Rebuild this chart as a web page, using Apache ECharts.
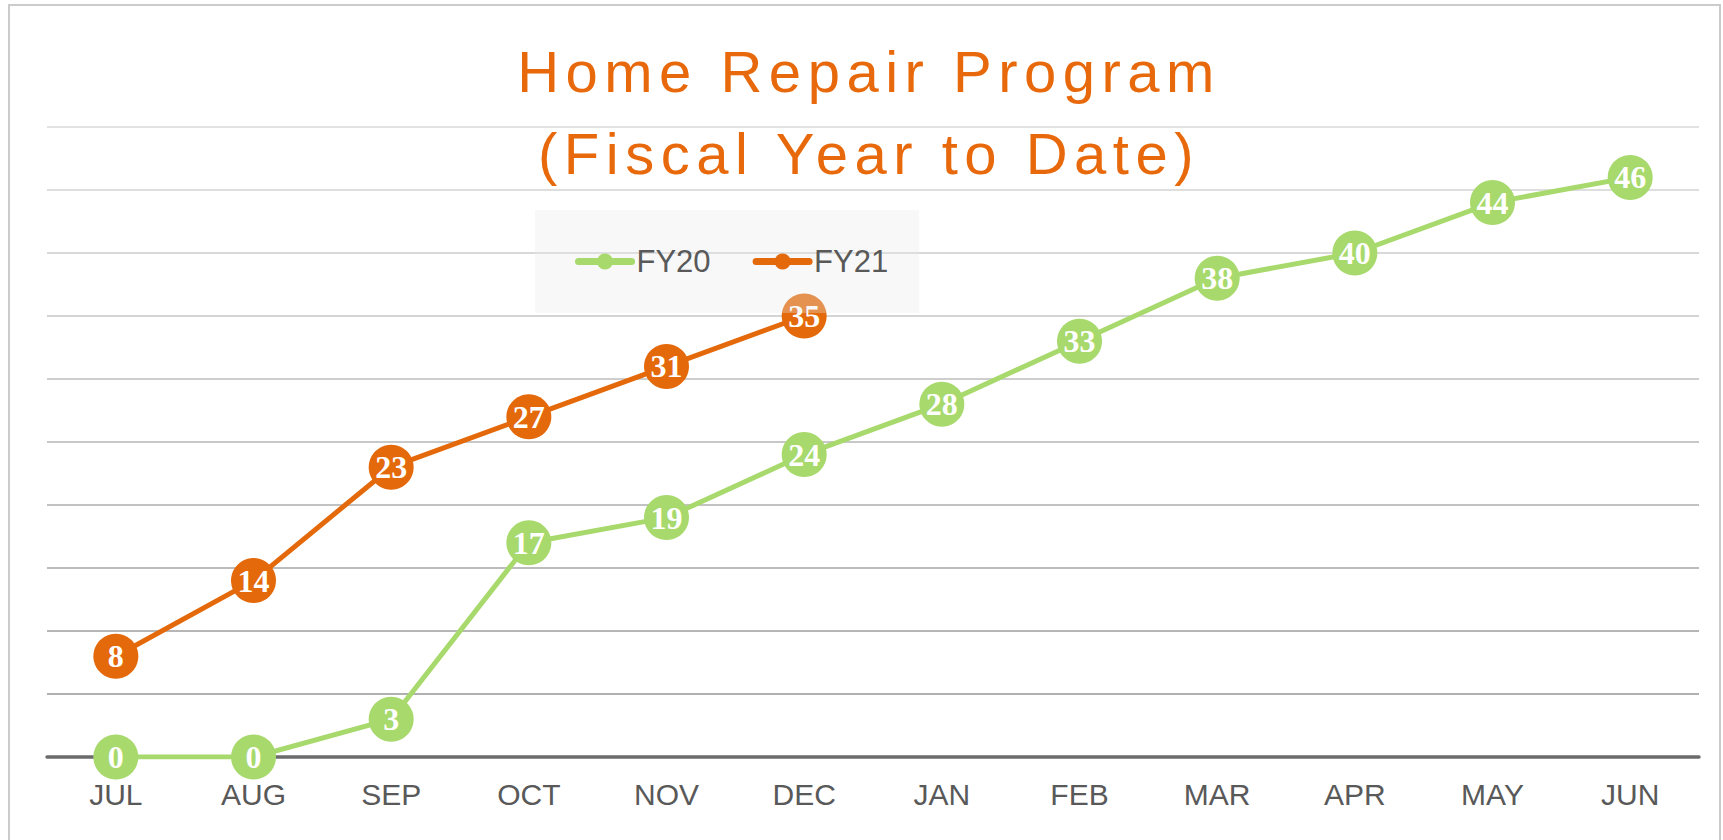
<!DOCTYPE html>
<html>
	<head>
		<meta charset="utf-8">
		<title>Home Repair Program</title>
		<style>
			html, body {
				width: 100%;
				height: 100%;
				margin: 0;
				padding: 0;
				background: #fff;
			}

			#main {
				width: 1723px;
				height: 840px;
			}
		</style>
	</head>
	<body>
		<div id="main"></div>
		<script src="https://cdn.jsdelivr.net/npm/echarts@6/dist/echarts.min.js"></script>
		<script>
			var months = ['JUL', 'AUG', 'SEP', 'OCT', 'NOV', 'DEC', 'JAN', 'FEB', 'MAR', 'APR', 'MAY', 'JUN'];
			var fy20 = [0, 0, 3, 17, 19, 24, 28, 33, 38, 40, 44, 46];
			var fy21 = [8, 14, 23, 27, 31, 35, null, null, null, null, null, null];
			var seriesNames = ['FY20', 'FY21'];
			var titleLines = ['Home Repair Program', '(Fiscal Year to Date)'];

			// gridlines fade from darker at the bottom to lighter at the top
			var gridColors = ['#a8a8a8', '#b0b0b0', '#b6b6b6', '#bcbcbc', '#c2c2c2', '#c8c8c8',
				'#cecece', '#d4d4d4', '#d9d9d9', '#dedede', '#e2e2e2'];

			var green = '#a8d96c', orange = '#e4690a';

			function lineSeries(name, data, color) {
				return {
					name: name,
					type: 'line',
					data: data,
					symbol: 'circle',
					symbolSize: 45,
					showSymbol: true,
					showAllSymbol: true,
					connectNulls: false,
					itemStyle: {color: color},
					lineStyle: {color: color, width: 5},
					label: {
						show: true,
						position: 'inside',
						color: '#fff',
						fontFamily: 'Liberation Serif',
						fontWeight: 'bold',
						fontSize: 32
					},
					emphasis: {disabled: true}
				};
			}

			var chart = echarts.init(document.getElementById('main'), null, {renderer: 'svg'});
			chart.setOption({
				animation: false,
				backgroundColor: '#fff',
				title: {
					text: titleLines.join('\n'),
					left: 864,
					top: 25,
					textAlign: 'center',
					textStyle: {
						color: '#e8690b',
						fontFamily: 'Liberation Sans',
						fontWeight: 'normal',
						fontSize: 58,
						lineHeight: 82
					}
				},
				legend: {
					data: seriesNames,
					left: 535,
					top: 210,
					padding: [36, 31, 36, 40],
					itemWidth: 53,
					itemHeight: 20,
					itemGap: 42,
					backgroundColor: 'rgba(232,232,232,0.32)',
					lineStyle: {width: 7, cap: 'round'},
					textStyle: {
						color: '#595959',
						fontFamily: 'Liberation Sans',
						fontSize: 31
					}
				},
				graphic: [{
					type: 'rect',
					z: -1,
					shape: {x: 9, y: 5, width: 1711, height: 900},
					style: {fill: 'none', stroke: '#cbcbcb', lineWidth: 2}
				}],
				grid: {
					left: 47,
					right: 24,
					top: 127,
					bottom: 83
				},
				xAxis: {
					type: 'category',
					data: months,
					boundaryGap: true,
					axisLine: {lineStyle: {color: '#6b6b6b', width: 3.5}},
					axisTick: {show: false},
					axisLabel: {
						color: '#595959',
						fontFamily: 'Liberation Sans',
						fontSize: 30,
						margin: 22
					},
					splitLine: {show: false}
				},
				yAxis: {
					type: 'value',
					min: 0,
					max: 50,
					interval: 5,
					axisLine: {show: false},
					axisTick: {show: false},
					axisLabel: {show: false},
					splitLine: {lineStyle: {color: gridColors, width: 2}}
				},
				series: [
					lineSeries(seriesNames[0], fy20, green),
					lineSeries(seriesNames[1], fy21, orange)
				]
			});

			// the title in the original is spaced out a little
			function spaceTitle() {
				var texts = document.querySelectorAll('#main text');
				for (var i = 0; i < texts.length; i++) {
					if (titleLines.indexOf(texts[i].textContent) != -1) {
						texts[i].setAttribute('letter-spacing', '6.5px');
					}
				}
			}
			spaceTitle();
			chart.on('finished', spaceTitle);
		</script>
	</body>
</html>
